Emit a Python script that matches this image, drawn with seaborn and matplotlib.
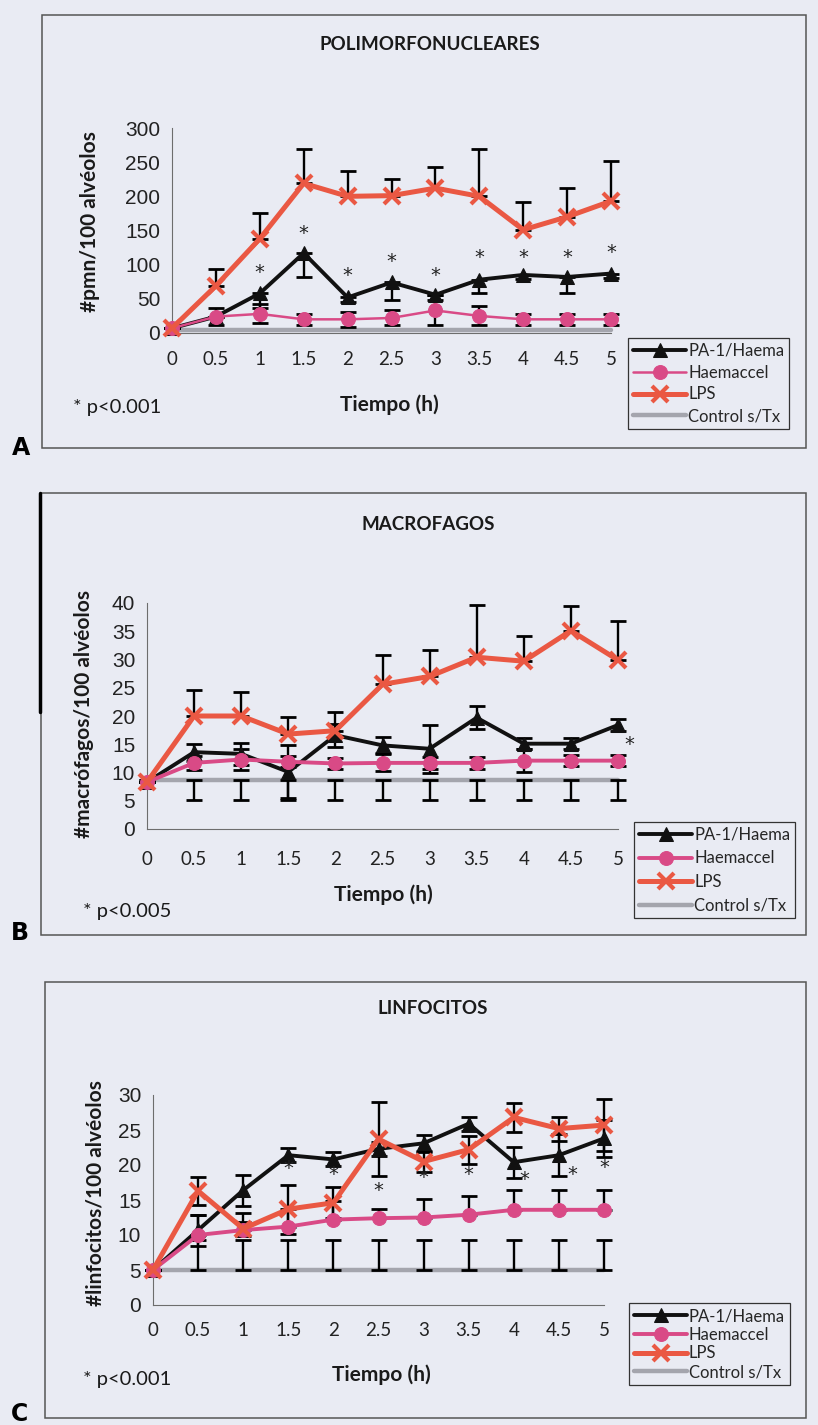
import matplotlib
matplotlib.use("Agg")
import matplotlib.pyplot as plt
import seaborn as sns
from matplotlib.patches import Rectangle
from matplotlib.lines import Line2D

# ---- data ----
time_h = [0, 0.5, 1, 1.5, 2, 2.5, 3, 3.5, 4, 4.5, 5]
time_labels = ["0", "0.5", "1", "1.5", "2", "2.5", "3", "3.5", "4", "4.5", "5"]
series_names = ["PA-1/Haema", "Haemaccel", "LPS", "Control s/Tx"]

# A: polimorfonucleares
pmn_pa1 = [7, 24, 58, 117, 52, 74, 56, 78, 85, 82, 87]
pmn_pa1_sd = [0, 0, 22, 35, 6, 26, 8, 20, 6, 24, 6]
pmn_haem = [7, 24, 28, 20, 20, 22, 33, 25, 20, 20, 20]
pmn_haem_sd = [0, 12, 14, 8, 11, 11, 22, 14, 8, 8, 8]
pmn_lps = [7, 69, 138, 219, 200, 201, 212, 200, 151, 170, 193]
pmn_lps_sd = [0, 24, 38, 50, 37, 25, 31, 69, 41, 42, 58]
pmn_ctrl = [5, 5, 5, 5, 5, 5, 5, 5, 5, 5, 5]
pmn_ctrl_sd = [0, 0, 0, 0, 0, 0, 0, 0, 0, 0, 0]
pmn_star_t = [1, 1.5, 2, 2.5, 3, 3.5, 4, 4.5, 5]
pmn_star_y = [89, 146, 84, 104, 84, 111, 111, 111, 118]

# B: macrofagos
mac_pa1 = [8.3, 13.6, 13.3, 10.1, 16.6, 14.8, 14.2, 19.7, 15.1, 15.1, 18.4]
mac_pa1_sd = [0, 1.5, 2.0, 4.7, 2.0, 1.4, 4.2, 2.0, 1.0, 1.0, 1.0]
mac_haem = [8.3, 11.7, 12.3, 11.9, 11.6, 11.7, 11.7, 11.7, 12.1, 12.1, 12.1]
mac_haem_sd = [0, 1.3, 1.8, 1.0, 1.0, 1.5, 1.0, 1.0, 2.0, 1.0, 1.0]
mac_lps = [8.3, 20.0, 20.0, 16.8, 17.4, 25.6, 27.0, 30.4, 29.7, 35.1, 29.9]
mac_lps_sd = [0, 4.6, 4.2, 3.1, 3.3, 5.2, 4.7, 9.3, 4.5, 4.3, 7.0]
mac_ctrl = [8.7, 8.7, 8.7, 8.7, 8.7, 8.7, 8.7, 8.7, 8.7, 8.7, 8.7]
mac_ctrl_sd = [0, 3.5, 3.5, 3.5, 3.5, 3.5, 3.5, 3.5, 3.5, 3.5, 3.5]
mac_star_t = [5.12]
mac_star_y = [15.0]

# C: linfocitos
lin_pa1 = [5.0, 10.7, 16.4, 21.4, 20.8, 22.3, 23.1, 25.9, 20.4, 21.4, 23.8]
lin_pa1_sd = [0, 2.2, 2.2, 1.0, 1.0, 1.0, 1.2, 1.0, 2.2, 3.0, 2.7]
lin_haem = [5.0, 10.0, 10.7, 11.2, 12.2, 12.4, 12.5, 12.9, 13.6, 13.6, 13.6]
lin_haem_sd = [0, 2.9, 2.5, 2.5, 2.6, 1.3, 2.6, 2.7, 2.8, 2.8, 2.8]
lin_lps = [5.0, 16.3, 10.9, 13.7, 14.6, 23.7, 20.5, 22.2, 26.8, 25.2, 25.7]
lin_lps_sd = [0, 2.0, 1.0, 3.5, 2.2, 5.3, 1.5, 2.0, 2.1, 1.7, 3.7]
lin_ctrl = [5.0, 5.0, 5.0, 5.0, 5.0, 5.0, 5.0, 5.0, 5.0, 5.0, 5.0]
lin_ctrl_sd = [0, 4.3, 4.3, 4.3, 4.3, 4.3, 4.3, 4.3, 4.3, 4.3, 4.3]
lin_star_t = [1.5, 2, 2.5, 3, 3.5, 4.12, 4.65, 5]
lin_star_y = [19.5, 18.7, 16.3, 18.2, 18.7, 18.0, 18.7, 19.7]

W, H = 818, 1425
BG = "#e9ebf3"
C_PA1 = "#111111"
C_HAEM = "#d94a86"
C_LPS = "#ea5843"
C_CTRL = "#a4a5ad"

sns.set_style("white")
plt.rcParams["font.family"] = ["Lato", "DejaVu Sans"]

fig = plt.figure(figsize=(W / 100, H / 100), dpi=100)
fig.patch.set_facecolor(BG)


def fx(px):
    return px / W


def fy(py):
    return 1 - py / H


def err_pair(sd, mode):
    zero = [0] * len(sd)
    if mode == "plus":
        return [zero, sd]
    if mode == "minus":
        return [sd, zero]
    return [sd, sd]


def panel(box, axbox, ymax, ystep, title, title_xy, ylabel, ylabel_xy,
          xlabel_xy, ptext, ptext_xy, letter, letter_xy, legbox,
          pa1, pa1_sd, haem, haem_sd, lps, lps_sd, ctrl, ctrl_sd,
          modes, star_t, star_y, haem_lw, xpad):
    # outer frame of the panel
    fig.patches.append(Rectangle((fx(box[0]), fy(box[3])), fx(box[2] - box[0]),
                                 (box[3] - box[1]) / H, transform=fig.transFigure,
                                 fill=False, ec="#555555", lw=1.1))
    x0, y0, x1, y1 = axbox
    ax = fig.add_axes([fx(x0), fy(y0), fx(x1 - x0), (y0 - y1) / H])
    ax.set_facecolor("none")

    ctrl_line = sns.lineplot(x=time_h, y=ctrl, ax=ax, color=C_CTRL, lw=3.2,
                             clip_on=False, zorder=2).lines[-1]
    # error bars (black, Excel-like)
    for vals, sd, mode in [(ctrl, ctrl_sd, modes[3]), (pa1, pa1_sd, modes[0]),
                           (haem, haem_sd, modes[1]), (lps, lps_sd, modes[2])]:
        if mode is None:
            continue
        ax.errorbar(time_h, vals, yerr=err_pair(sd, mode), fmt="none",
                    ecolor="black", elinewidth=1.7, capsize=5.5, capthick=2,
                    clip_on=False, zorder=3)
    pa1_line = sns.lineplot(x=time_h, y=pa1, ax=ax, color=C_PA1, lw=2.8,
                            marker="^", ms=10, markeredgecolor=C_PA1,
                            clip_on=False, zorder=4).lines[-1]
    haem_line = sns.lineplot(x=time_h, y=haem, ax=ax, color=C_HAEM, lw=haem_lw,
                             marker="o", ms=10, markeredgecolor=C_HAEM,
                             clip_on=False, zorder=5).lines[-1]
    lps_line = sns.lineplot(x=time_h, y=lps, ax=ax, color=C_LPS, lw=3.6,
                            marker="x", ms=11, markeredgewidth=3,
                            markeredgecolor=C_LPS, clip_on=False, zorder=6).lines[-1]

    for t, v in zip(star_t, star_y):
        ax.text(t, v, "*", ha="center", va="center", fontsize=14,
                family="DejaVu Sans", color="#222222", zorder=7)

    ax.set_xlim(0, 5)
    ax.set_ylim(0, ymax)
    ax.set_xticks(time_h)
    ax.set_xticklabels(time_labels)
    yt = list(range(0, ymax + 1, ystep))
    ax.set_yticks(yt)
    ax.set_yticklabels([str(v) for v in yt], family="Liberation Sans")
    ax.tick_params(axis="y", direction="inout", length=9, width=1,
                   color="#6d6d6d", labelsize=15, pad=4, labelcolor="#222222")
    ax.tick_params(axis="x", length=0, labelsize=13.5, pad=xpad,
                   labelcolor="#222222")
    for s in ["top", "right"]:
        ax.spines[s].set_visible(False)
    ax.spines["left"].set_color("#6d6d6d")
    ax.spines["bottom"].set_color("#6d6d6d")
    ax.set_xlabel("")
    ax.set_ylabel("")

    fig.text(fx(title_xy[0]), fy(title_xy[1]), title, ha="center", va="center",
             fontsize=13.5, fontweight="bold", color="#1a1a1a")
    fig.text(fx(ylabel_xy[0]), fy(ylabel_xy[1]), ylabel, ha="center", va="center",
             rotation=90, fontsize=15, fontweight="bold", color="#1a1a1a")
    fig.text(fx(xlabel_xy[0]), fy(xlabel_xy[1]), "Tiempo (h)", ha="center",
             va="center", fontsize=15, fontweight="bold", color="#1a1a1a")
    fig.text(fx(ptext_xy[0]), fy(ptext_xy[1]), ptext, ha="left", va="center",
             fontsize=14.5, color="#1a1a1a")
    fig.text(fx(letter_xy[0]), fy(letter_xy[1]), letter, ha="center",
             va="center", fontsize=17, fontweight="heavy",
             family="DejaVu Sans", color="black")

    lx0, ly0, lx1, ly1 = legbox
    leg = ax.legend([pa1_line, haem_line, lps_line, ctrl_line], series_names,
                    loc="upper left", bbox_to_anchor=(fx(lx0), fy(ly0)),
                    bbox_transform=fig.transFigure, fontsize=12, frameon=True,
                    fancybox=False, edgecolor="#333333", facecolor=BG,
                    framealpha=1, handlelength=3.2, handletextpad=0.1,
                    labelspacing=max((ly1 - ly0 - 66) / 4 / 16.7, 0.05),
                    borderpad=0.3, borderaxespad=0)
    leg.get_frame().set_linewidth(0.9)
    return ax


panel(box=(42, 15, 806, 448), axbox=(172, 333, 611, 128), ymax=300, ystep=50,
      title="POLIMORFONUCLEARES", title_xy=(430, 45),
      ylabel="#pmn/100 alvéolos", ylabel_xy=(90, 222), xlabel_xy=(389, 405),
      ptext="* p<0.001", ptext_xy=(73, 408), letter="A", letter_xy=(21, 448),
      legbox=(628, 338, 799, 427),
      pa1=pmn_pa1, pa1_sd=pmn_pa1_sd, haem=pmn_haem, haem_sd=pmn_haem_sd,
      lps=pmn_lps, lps_sd=pmn_lps_sd, ctrl=pmn_ctrl, ctrl_sd=pmn_ctrl_sd,
      modes=["minus", "both", "plus", None], star_t=pmn_star_t,
      star_y=pmn_star_y, haem_lw=1.8, xpad=13)

panel(box=(41, 493, 806, 935), axbox=(147, 829, 618, 603), ymax=40, ystep=5,
      title="MACROFAGOS", title_xy=(428, 524),
      ylabel="#macrófagos/100 alvéolos", ylabel_xy=(84, 714),
      xlabel_xy=(383, 895), ptext="* p<0.005", ptext_xy=(83, 912),
      letter="B", letter_xy=(20, 933), legbox=(634, 822, 797, 918),
      pa1=mac_pa1, pa1_sd=mac_pa1_sd, haem=mac_haem, haem_sd=mac_haem_sd,
      lps=mac_lps, lps_sd=mac_lps_sd, ctrl=mac_ctrl, ctrl_sd=mac_ctrl_sd,
      modes=["both", "both", "plus", "minus"], star_t=mac_star_t,
      star_y=mac_star_y, haem_lw=2.8, xpad=16)

panel(box=(45, 982, 806, 1418), axbox=(153, 1305, 604, 1095), ymax=30, ystep=5,
      title="LINFOCITOS", title_xy=(433, 1008),
      ylabel="#linfocitos/100 alvéolos", ylabel_xy=(96, 1193),
      xlabel_xy=(381, 1375), ptext="* p<0.001", ptext_xy=(83, 1380),
      letter="C", letter_xy=(20, 1414), legbox=(629, 1303, 806, 1380),
      pa1=lin_pa1, pa1_sd=lin_pa1_sd, haem=lin_haem, haem_sd=lin_haem_sd,
      lps=lin_lps, lps_sd=lin_lps_sd, ctrl=lin_ctrl, ctrl_sd=lin_ctrl_sd,
      modes=["both", "plus", "both", "plus"], star_t=lin_star_t,
      star_y=lin_star_y, haem_lw=2.8, xpad=12)

# dark scan mark on the left edge of panel B
fig.lines.append(Line2D([fx(40), fx(40)], [fy(493), fy(712)],
                        transform=fig.transFigure, color="black", lw=2.5))

fig.savefig("out.png", dpi=100, facecolor=BG)
